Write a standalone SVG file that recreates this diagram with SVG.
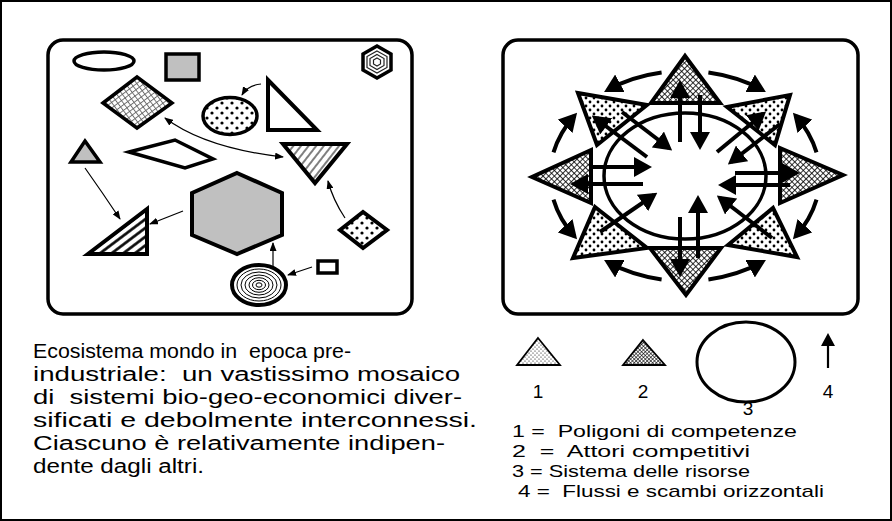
<svg xmlns="http://www.w3.org/2000/svg" width="892" height="521" viewBox="0 0 892 521">
<style>
.frame{fill:none;stroke:#000;stroke-width:3.5}
.sh{stroke:#000;stroke-width:3.5;stroke-linejoin:miter}
.tri{stroke:#000;stroke-width:4;stroke-linejoin:miter}
.thin{fill:none;stroke:#000;stroke-width:1.2;marker-end:url(#sa)}
.big{fill:none;stroke:#000;stroke-width:4;marker-end:url(#ah)}
.txt{font-family:"Liberation Sans","Open Sans",sans-serif;fill:#000}
</style>
<defs>
<marker id="ah" viewBox="0 0 18 20" refX="14" refY="10" markerWidth="18" markerHeight="20" markerUnits="userSpaceOnUse" orient="auto"><path d="M0,0 L18,10 L0,20 z" fill="#000"/></marker>
<marker id="sa" viewBox="0 0 9 7" refX="8" refY="3.5" markerWidth="9" markerHeight="7" markerUnits="userSpaceOnUse" orient="auto-start-reverse"><path d="M0,0 L9,3.5 L0,7 z" fill="#000"/></marker>
<pattern id="dots" width="8" height="8" patternUnits="userSpaceOnUse"><rect width="8" height="8" fill="#fff"/><circle cx="2" cy="2" r="1.4" fill="#000"/><circle cx="6" cy="6" r="1.4" fill="#000"/></pattern>
<pattern id="dotsL" width="10" height="10" patternUnits="userSpaceOnUse"><rect width="10" height="10" fill="#fff"/><circle cx="2" cy="3" r="1.6" fill="#000"/><circle cx="7" cy="8" r="1.6" fill="#000"/></pattern>
<pattern id="dotsS" width="4" height="4" patternUnits="userSpaceOnUse"><rect width="4" height="4" fill="#fff"/><circle cx="1" cy="1" r="0.6" fill="#000"/><circle cx="3" cy="3" r="0.6" fill="#000"/></pattern>
<pattern id="xh" width="4" height="4" patternUnits="userSpaceOnUse" patternTransform="rotate(45)"><rect width="4" height="4" fill="#fff"/><path d="M0,0.4 H4 M0.4,0 V4" stroke="#000" stroke-width="0.9"/></pattern>
<pattern id="xhS" width="2.6" height="2.6" patternUnits="userSpaceOnUse" patternTransform="rotate(45)"><rect width="2.6" height="2.6" fill="#fff"/><path d="M0,0.3 H2.6 M0.3,0 V2.6" stroke="#000" stroke-width="0.7"/></pattern>
<pattern id="grid" width="4.5" height="4.5" patternUnits="userSpaceOnUse" patternTransform="rotate(-37)"><rect width="4.5" height="4.5" fill="#fff"/><path d="M0,0.5 H4.5 M0.5,0 V4.5" stroke="#666" stroke-width="0.9"/></pattern>
<pattern id="hatchB" width="7" height="7" patternUnits="userSpaceOnUse" patternTransform="rotate(-37)"><rect width="7" height="7" fill="#fff"/><path d="M0,3.5 H7" stroke="#000" stroke-width="2.6"/></pattern>
<pattern id="hatchT" width="6" height="6" patternUnits="userSpaceOnUse" patternTransform="rotate(-52)"><rect width="6" height="6" fill="#fff"/><path d="M0,3 H6" stroke="#000" stroke-width="1"/></pattern>
</defs>

<rect x="1" y="1" width="890" height="519" fill="#fff" stroke="#000" stroke-width="2"/>

<!-- LEFT PANEL -->
<g id="left-panel">
<rect class="frame" x="48" y="40" width="364" height="274" rx="15"/>
</g>
<g id="l-ellipse"><ellipse class="sh" cx="104" cy="61" rx="30" ry="9" fill="#fff"/></g>
<g id="l-gray-square"><rect class="sh" x="166" y="54" width="33" height="26" fill="#c0c0c0"/></g>
<g id="l-grid-diamond"><polygon class="sh" points="103,103 137,77 172,103 137,128" fill="url(#grid)"/></g>
<g id="l-dot-circle"><ellipse class="sh" cx="230" cy="116" rx="27" ry="18.5" fill="url(#dotsL)"/></g>
<g id="l-right-triangle"><polygon class="tri" points="268,80 268,130 317,130" fill="#fff"/></g>
<g id="l-small-hex">
<polygon class="sh" points="377,46 391,54 391,70 377,78 363,70 363,54" fill="#fff"/>
<polygon points="377,51 387,56.5 387,67.5 377,73 367,67.5 367,56.5" fill="none" stroke="#222" stroke-width="1.2"/>
<polygon points="377,54.5 384,58.5 384,65.5 377,69.5 370,65.5 370,58.5" fill="none" stroke="#222" stroke-width="1.2"/>
<polygon points="377,58 380.5,60 380.5,64 377,66 373.5,64 373.5,60" fill="none" stroke="#222" stroke-width="1.2"/>
</g>
<g id="l-hatched-invtri"><polygon class="tri" points="283,144 347,144 315,183" fill="url(#hatchT)"/></g>
<g id="l-gray-tri"><polygon class="sh" points="85,141 100,162 71,162" fill="#c0c0c0"/></g>
<g id="l-kite"><polygon class="sh" points="129,152 175,140 213,159 185,168" fill="#fff"/></g>
<g id="l-hatched-tri"><polygon class="tri" points="147,209 147,254 88,254" fill="url(#hatchB)"/></g>
<g id="l-gray-hex"><polygon class="tri" points="237,173 282,193 282,235 237,254 192,235 192,193" fill="#c0c0c0"/></g>
<g id="l-dot-diamond"><polygon class="tri" points="340,230 363,212 387,230 363,248" fill="url(#dotsL)"/></g>
<g id="l-target">
<ellipse cx="259" cy="285" rx="27" ry="20" fill="#fff" stroke="#000" stroke-width="4"/>
<g fill="none" stroke="#000" stroke-width="1">
<ellipse cx="259" cy="285" rx="22" ry="16"/>
<ellipse cx="259" cy="285" rx="18" ry="13"/>
<ellipse cx="259" cy="285" rx="14" ry="10"/>
<ellipse cx="259" cy="285" rx="10" ry="7.3"/>
<ellipse cx="259" cy="285" rx="6.5" ry="4.7"/>
<ellipse cx="259" cy="285" rx="3" ry="2.2"/>
</g>
</g>
<g id="l-small-square"><rect class="sh" x="318" y="261" width="19" height="12" fill="#fff"/></g>

<g id="left-connectors">
<path class="thin" d="M261,84 Q248,85 242,95"/>
<path class="thin" d="M165,118 Q205,148 283,157" marker-start="url(#sa)"/>
<path class="thin" d="M85,168 Q102,192 120,219"/>
<path class="thin" d="M183,211 L150,224"/>
<path class="thin" d="M273,266 L273,243"/>
<path class="thin" d="M312,267 L288,275"/>
<path class="thin" d="M345,218 Q333,200 328,181"/>
</g>

<!-- RIGHT PANEL -->
<g id="right-panel"><rect class="frame" x="503" y="40" width="355" height="274" rx="15"/></g>
<g id="r-tri-n"><polygon class="tri" points="685,56 651,103 720,103" fill="url(#xh)"/></g>
<g id="r-tri-s"><polygon class="tri" points="650,248 721,248 686,295" fill="url(#xh)"/></g>
<g id="r-tri-e"><polygon class="tri" points="780,148 843,175 780,203" fill="url(#xh)"/></g>
<g id="r-tri-w"><polygon class="tri" points="591,150 532,177 591,203" fill="url(#xh)"/></g>
<g id="r-tri-nw"><polygon class="tri" points="578,93 647,105 597,145" fill="url(#dots)"/></g>
<g id="r-tri-ne"><polygon class="tri" points="727,107 790,95 775,145" fill="url(#dots)"/></g>
<g id="r-tri-se"><polygon class="tri" points="728,245 773,208 797,257" fill="url(#dots)"/></g>
<g id="r-tri-sw"><polygon class="tri" points="595,207 647,248 573,258" fill="url(#dots)"/></g>
<g id="r-resources"><ellipse cx="685" cy="176" rx="81" ry="63" fill="none" stroke="#000" stroke-width="3.5"/></g>

<g id="right-connectors">
<path class="big" d="M680,142 L680,84"/>
<path class="big" d="M700,95 L700,146"/>
<path class="big" d="M698,258 L698,199"/>
<path class="big" d="M680,217 L680,273"/>
<path class="big" d="M735,173 L796,173"/>
<path class="big" d="M790,185 L722,185"/>
<path class="big" d="M590,167 L648,167"/>
<path class="big" d="M643,184 L574,184"/>
<path class="big" d="M647,157 L595,118"/>
<path class="big" d="M622,112 L669,148"/>
<path class="big" d="M717,152 L763,114"/>
<path class="big" d="M780,124 L731,162"/>
<path class="big" d="M772,238 L720,198"/>
<path class="big" d="M600,232 L654,195"/>
<path class="big" d="M661.6,72.6 A135,105 0 0 0 607.6,90"/>
<path class="big" d="M708.4,72.6 A135,105 0 0 1 762.4,90"/>
<path class="big" d="M553.5,152.4 A135,105 0 0 1 574.4,115.8"/>
<path class="big" d="M553.5,199.6 A135,105 0 0 0 574.4,236.2"/>
<path class="big" d="M816.5,152.4 A135,105 0 0 0 795.6,115.8"/>
<path class="big" d="M816.5,199.6 A135,105 0 0 1 795.6,236.2"/>
<path class="big" d="M661.6,279.4 A135,105 0 0 1 607.6,262"/>
<path class="big" d="M708.4,279.4 A135,105 0 0 0 762.4,262"/>
</g>

<!-- LEGEND -->
<g id="legend-1"><polygon points="538,338 560,365 517,365" fill="url(#dotsS)" stroke="#000" stroke-width="1.8"/>
<text class="txt" x="538" y="398" font-size="19" text-anchor="middle">1</text></g>
<g id="legend-2"><polygon points="643,340 665,365 623,365" fill="url(#xhS)" stroke="#000" stroke-width="1.8"/>
<text class="txt" x="643" y="398" font-size="19" text-anchor="middle">2</text></g>
<g id="legend-3"><ellipse cx="746" cy="362" rx="49" ry="40" fill="none" stroke="#000" stroke-width="3"/>
<text class="txt" x="748" y="415" font-size="19" text-anchor="middle">3</text></g>
<g id="legend-4"><path d="M828,368 L828,344" stroke="#000" stroke-width="2.2" fill="none"/><path d="M821,346 L828,333 L835,346 z" fill="#000"/>
<text class="txt" x="828" y="398" font-size="19" text-anchor="middle">4</text></g>

<g id="legend-text" class="txt" font-size="17">
<text x="512" y="437" xml:space="preserve" textLength="285" lengthAdjust="spacingAndGlyphs">1 =  Poligoni di competenze</text>
<text x="512" y="457" xml:space="preserve" textLength="238" lengthAdjust="spacingAndGlyphs">2  =  Attori competitivi</text>
<text x="512" y="477" xml:space="preserve" textLength="238" lengthAdjust="spacingAndGlyphs">3 = Sistema delle risorse</text>
<text x="518" y="497" xml:space="preserve" textLength="306" lengthAdjust="spacingAndGlyphs">4 =  Flussi e scambi orizzontali</text>
</g>

<g id="caption" class="txt" font-size="20">
<text x="33" y="358" xml:space="preserve" textLength="318" lengthAdjust="spacingAndGlyphs">Ecosistema mondo in  epoca pre-</text>
<text x="33" y="381" xml:space="preserve" textLength="427" lengthAdjust="spacingAndGlyphs">industriale:  un vastissimo mosaico</text>
<text x="33" y="404" xml:space="preserve" textLength="429" lengthAdjust="spacingAndGlyphs">di  sistemi bio-geo-economici diver-</text>
<text x="33" y="427" xml:space="preserve" textLength="444" lengthAdjust="spacingAndGlyphs">sificati e debolmente interconnessi.</text>
<text x="33" y="450" xml:space="preserve" textLength="412" lengthAdjust="spacingAndGlyphs">Ciascuno è relativamente indipen-</text>
<text x="33" y="473" xml:space="preserve" textLength="171" lengthAdjust="spacingAndGlyphs">dente dagli altri.</text>
</g>
</svg>
